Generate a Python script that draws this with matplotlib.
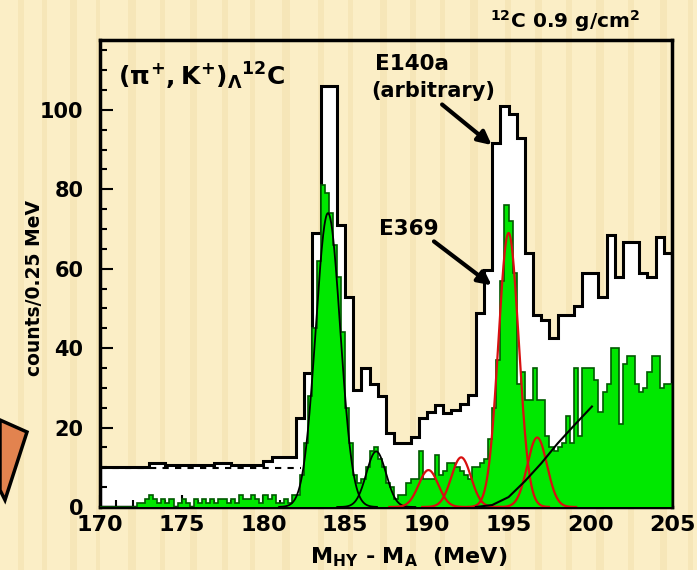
import numpy as np
import matplotlib
matplotlib.use("Agg")
import matplotlib.pyplot as plt
from matplotlib.patches import Polygon

plt.rcParams['font.family'] = ['DejaVu Sans']
plt.rcParams['font.weight'] = 'bold'
plt.rcParams['mathtext.fontset'] = 'custom'
plt.rcParams['mathtext.rm'] = 'DejaVu Sans:bold'
plt.rcParams['mathtext.it'] = 'DejaVu Sans:bold'
plt.rcParams['mathtext.bf'] = 'DejaVu Sans:bold'
plt.rcParams['mathtext.sf'] = 'DejaVu Sans:bold'

# ---------------- data ----------------
# E140a (arbitrary) histogram, 0.5 MeV bins from 170 to 205
e140_edges = np.arange(170.0, 205.01, 0.5)
e140_counts = [
    10, 10, 10, 10, 10, 10, 11, 11, 10.5, 10.5,          # 170-175
    10.5, 10.5, 10.5, 10.5, 11, 11, 10.5, 10.5, 10.5, 10.5,  # 175-180
    11.5, 12.5, 12.5, 12.5, 22.4, 33.7, 69, 106, 106, 71,    # 180-185
    53, 29.5, 35, 31, 28, 18.6, 16, 16, 17.7, 22.3,          # 185-190
    24, 25.7, 23.7, 24.4, 26, 28.2, 48.8, 59.7, 91.7, 101,   # 190-195
    99, 93, 64, 48.4, 47, 42.6, 48.4, 48.4, 50.5, 59,        # 195-200
    59, 53, 68.5, 58, 66.8, 66.8, 59, 58, 68, 64,            # 200-205
]

# E369 histogram, 0.25 MeV bins from 170 to 205
e369_edges = np.arange(170.0, 205.001, 0.25)
e369_counts = [
    0, 0, 0, 0,       0, 0, 0, 0,       0, 1, 1, 2,       3, 2, 1, 2,      # 170-174
    1, 2, 0, 1,       2, 1, 0, 2,       1, 2, 1, 2,       1, 2, 2, 1,      # 174-178
    2, 1, 3, 2,       2, 3, 2, 1,       3, 2, 3, 1,       1, 2, 1, 3,      # 178-182
    3, 8, 16, 28,     45, 62, 81, 79,   74, 66, 58, 44,   25, 16, 8, 6,    # 182-186
    7, 10, 14, 15,    12, 10, 6, 5,     2, 3, 3, 6,       7, 7, 14, 7,     # 186-190
    7, 7, 13, 8,      9, 11, 11, 10,    9, 8, 7, 10,      10, 11, 12, 17,  # 190-194
    25, 37, 57, 76,   72, 59, 31, 34,   27, 27, 35, 27,   27, 18, 15, 14,  # 194-198
    15, 16, 23, 16,   35, 18, 35, 35,   35, 32, 24, 29,   31, 40, 40, 21,  # 198-202
    36, 38, 38, 31,   29, 30, 34, 38,   38, 30, 31, 31,                    # 202-205
]

# Gaussian fit components: (centre MeV, height, sigma)
black_peaks = [(183.95, 74.0, 0.75), (186.9, 14.0, 0.6)]
red_peaks = [(190.1, 9.3, 0.6), (192.1, 12.5, 0.6), (195.0, 69.0, 0.62), (196.75, 17.5, 0.6)]

# background curve
bg_x = [193.0, 194.0, 195.0, 196.0, 197.0, 198.0, 199.0, 200.1]
bg_y = [0.0, 0.5, 2.5, 6.5, 11.0, 16.0, 20.5, 25.3]

x_ticks = [170, 175, 180, 185, 190, 195, 200, 205]
y_ticks = [0, 20, 40, 60, 80, 100]

# ---------------- figure ----------------
fig = plt.figure(figsize=(6.97, 5.70), dpi=100)

# slide background with vertical stripes
bg = fig.add_axes([0, 0, 1, 1], zorder=-10)
bg.set_xlim(0, 697)
bg.set_ylim(570, 0)
bg.axis('off')
bg.add_patch(plt.Rectangle((0, 0), 697, 570, color='#FBEEC6'))
stripes = [(18, 6), (42, 5), (70, 7), (96, 4), (128, 8), (160, 5), (190, 7), (222, 6),
           (250, 5), (282, 8), (318, 6), (348, 5), (380, 7), (410, 6), (440, 5), (470, 8),
           (505, 6), (535, 7), (566, 6), (596, 8), (628, 6), (660, 7), (688, 5)]
for sx, sw in stripes:
    bg.axvspan(sx, sx + sw, color='#EFD9A0', alpha=0.35, lw=0)
bg.add_patch(Polygon([(0, 420), (27, 432), (5, 500), (0, 490)], closed=True,
                     facecolor='#E2834F', edgecolor='black', lw=2.5))

ax = fig.add_axes([100 / 697, 1 - 507 / 570, 572 / 697, 467 / 570])
ax.patch.set_alpha(0)
ax.set_xlim(170, 205)
ax.set_ylim(0, 117.6)

# E140a histogram
ax.stairs(e140_counts, e140_edges, fill=True, color='white', zorder=1)
ax.stairs(e140_counts, e140_edges, color='black', lw=2.2, zorder=2)
ax.hlines(9.8, 170, 182.3, colors='black', linestyles=(0, (3, 3)), lw=1.5, zorder=2)

# E369 histogram
ax.stairs(e369_counts, e369_edges, fill=True, color='#00E800', zorder=3)
ax.stairs(e369_counts, e369_edges, color='#005A00', lw=1.2, zorder=4)

# fit curves
xx = np.linspace(170, 205, 2000)
for c, h, s in black_peaks:
    m = np.abs(xx - c) < 4 * s
    ax.plot(xx[m], h * np.exp(-0.5 * ((xx[m] - c) / s) ** 2), color='black', lw=1.3, zorder=5)
for c, h, s in red_peaks:
    m = np.abs(xx - c) < 4 * s
    ax.plot(xx[m], h * np.exp(-0.5 * ((xx[m] - c) / s) ** 2), color='#D81010', lw=1.6, zorder=5)
ax.plot(bg_x, bg_y, color='black', lw=1.5, zorder=5)

# axes styling
for sp in ax.spines.values():
    sp.set_linewidth(2.5)
    sp.set_color('black')
ax.set_xticks(x_ticks)
ax.set_xticklabels([str(t) for t in x_ticks])
ax.set_yticks(y_ticks)
ax.set_yticklabels([str(t) for t in y_ticks])
ax.set_xticks(np.arange(170, 206, 1), minor=True)
ax.set_yticks(np.arange(0, 116, 5), minor=True)
ax.tick_params(axis='both', which='both', direction='in', color='black', width=1.5)
ax.tick_params(axis='both', which='major', length=9)
ax.tick_params(axis='both', which='minor', length=5)
ax.tick_params(axis='x', which='major', labelsize=16, pad=6)
ax.tick_params(axis='y', which='major', labelsize=15, pad=12)
for lab in ax.get_xticklabels() + ax.get_yticklabels():
    lab.set_fontweight('bold')

fig.text(35 / 697, 1 - 288 / 570, 'counts/0.25 MeV', rotation=90, fontsize=13.5,
         fontweight='bold', ha='center', va='center')
fig.text(409 / 697, 1 - 563 / 570, r'$\mathrm{M_{HY}}$ - $\mathrm{M_{A}}$  (MeV)',
         fontsize=16, fontweight='bold', ha='center', va='baseline')

# annotations
fig.text(118 / 697, 1 - 85 / 570, r'$(\pi^{+},\mathrm{K}^{+})_{\Lambda}{}^{12}\mathrm{C}$',
         fontsize=18, fontweight='bold', ha='left', va='baseline')
fig.text(490 / 697, 1 - 28 / 570, r'$^{12}$C 0.9 g/cm$^{2}$', fontsize=14.5,
         fontweight='bold', ha='left', va='baseline')
ax.text(186.8, 110.0, 'E140a', fontsize=15.5, fontweight='bold', ha='left', va='baseline')
ax.text(186.6, 103.3, '(arbitrary)', fontsize=15, fontweight='bold', ha='left', va='baseline')
ax.text(187.1, 68.5, 'E369', fontsize=15.5, fontweight='bold', ha='left', va='baseline')
ax.annotate('', xy=(194.1, 90.7), xytext=(190.8, 101.8),
            arrowprops=dict(arrowstyle='-|>,head_length=0.8,head_width=0.4', color='black', lw=3),
            zorder=6)
ax.annotate('', xy=(194.1, 55.4), xytext=(190.3, 67.3),
            arrowprops=dict(arrowstyle='-|>,head_length=0.8,head_width=0.4', color='black', lw=3),
            zorder=6)

fig.savefig('out.png', dpi=100)
